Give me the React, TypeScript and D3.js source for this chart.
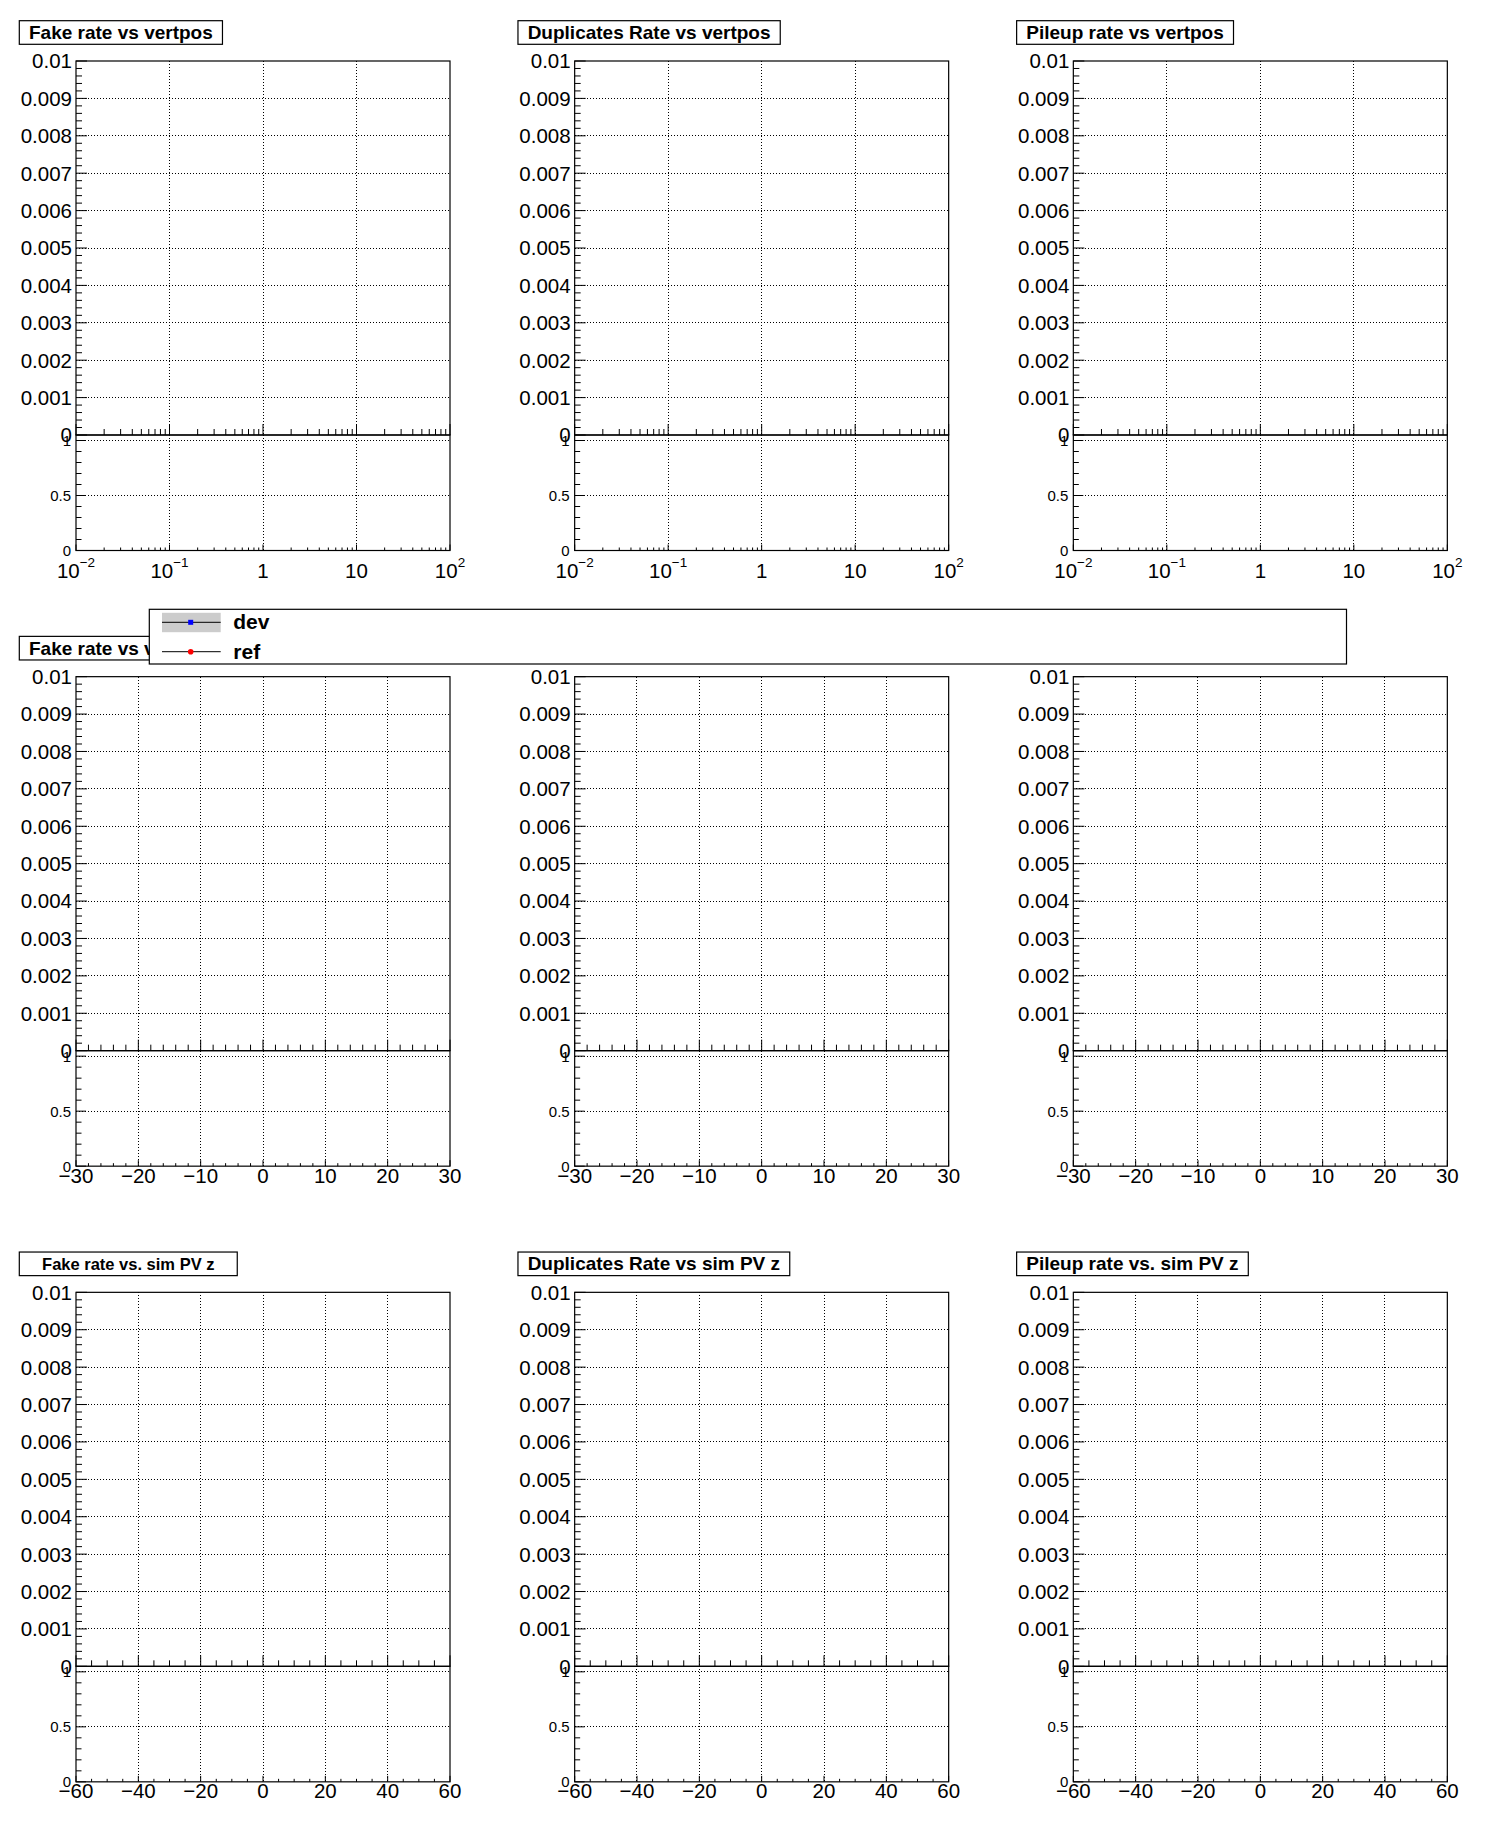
import { useMemo } from "react"
import * as d3 from "d3"

const WIDTH = 1496
const HEIGHT = 1847
const FONT = "'Liberation Sans', Arial, Helvetica, sans-serif"

// ── Chart content ─────────────────────────────────────────────────────────
const TITLES_VERTPOS = ["Fake rate vs vertpos", "Duplicates Rate vs vertpos", "Pileup rate vs vertpos"]
const TITLES_ZPOS = ["Fake rate vs vertpos z", "Duplicates Rate vs vertpos z", "Pileup rate vs vertpos z"]
const TITLES_SIMPVZ = ["Fake rate vs. sim PV z", "Duplicates Rate vs sim PV z", "Pileup rate vs. sim PV z"]

const X_VERTPOS_DOMAIN = [0.01, 100]
const X_VERTPOS_TICKS = [0.01, 0.1, 1, 10, 100]
const X_VERTPOS_LABELS = [["10", "−2"], ["10", "−1"], ["1", ""], ["10", ""], ["10", "2"]]

const X_ZPOS_DOMAIN = [-30, 30]
const X_ZPOS_TICKS = [-30, -20, -10, 0, 10, 20, 30]
const X_ZPOS_LABELS = ["−30", "−20", "−10", "0", "10", "20", "30"]

const X_SIMPVZ_DOMAIN = [-60, 60]
const X_SIMPVZ_TICKS = [-60, -40, -20, 0, 20, 40, 60]
const X_SIMPVZ_LABELS = ["−60", "−40", "−20", "0", "20", "40", "60"]

const RATE_DOMAIN = [0, 0.01]
const RATE_TICKS = [0, 0.001, 0.002, 0.003, 0.004, 0.005, 0.006, 0.007, 0.008, 0.009, 0.01]
const RATE_LABELS = ["0", "0.001", "0.002", "0.003", "0.004", "0.005", "0.006", "0.007", "0.008", "0.009", "0.01"]

const RATIO_DOMAIN = [0, 1.05]
const RATIO_TICKS = [0, 0.5, 1]
const RATIO_LABELS = ["0", "0.5", "1"]

// both series are empty in every panel
const DEV_POINTS: { x: number; y: number }[] = []
const REF_POINTS: { x: number; y: number }[] = []
const LEGEND_NAMES = ["dev", "ref"]
const LEGEND_COLORS = ["#0000ff", "#ff0000"]

// ── Layout (pad-relative) ────────────────────────────────────────────────
const PAD_W = WIDTH / 3
const PAD_H = HEIGHT / 3
const F = { left: 76, right: 450, top: 61, mid: 435, bottom: 550.5 }

const ROWS = [
  { titles: TITLES_VERTPOS, log: true, domain: X_VERTPOS_DOMAIN, ticks: X_VERTPOS_TICKS, labels: X_VERTPOS_LABELS, minor: 0 },
  { titles: TITLES_ZPOS, log: false, domain: X_ZPOS_DOMAIN, ticks: X_ZPOS_TICKS, labels: X_ZPOS_LABELS, minor: 30 },
  { titles: TITLES_SIMPVZ, log: false, domain: X_SIMPVZ_DOMAIN, ticks: X_SIMPVZ_TICKS, labels: X_SIMPVZ_LABELS, minor: 24 },
]

let measureCtx: CanvasRenderingContext2D | null = null
function textWidth(text: string, size: number) {
  if (!measureCtx) measureCtx = document.createElement("canvas").getContext("2d")
  if (!measureCtx) return text.length * size * 0.55
  measureCtx.font = `bold ${size}px ${FONT}`
  return measureCtx.measureText(text).width
}

const GRID = { stroke: "#000", strokeWidth: 1, strokeDasharray: "1,2", shapeRendering: "crispEdges" }
const LABEL_SIZE = 20.5

function Panel({ row, col }: { row: number; col: number }) {
  const cfg = ROWS[row]
  const title = cfg.titles[col]
  const x0 = col * PAD_W
  const y0 = row * PAD_H

  const x = useMemo(() => {
    return cfg.log
      ? d3.scaleLog().domain(cfg.domain).range([F.left, F.right])
      : d3.scaleLinear().domain(cfg.domain).range([F.left, F.right])
  }, [cfg])
  const yUp = d3.scaleLinear().domain(RATE_DOMAIN).range([F.mid, F.top])
  const yLo = d3.scaleLinear().domain(RATIO_DOMAIN).range([F.bottom, F.mid])

  const allX: number[] = cfg.log
    ? (x as d3.ScaleLogarithmic<number, number>).ticks()
    : (x as d3.ScaleLinear<number, number>).ticks(cfg.minor)
  const isMajor = (t: number) => cfg.ticks.some((m) => Math.abs(m - t) < 1e-9 * Math.max(1, Math.abs(m)))
  const minorX = allX.filter((t) => !isMajor(t))
  const minorUp = yUp.ticks(50).filter((t) => !RATE_TICKS.some((m) => Math.abs(m - t) < 1e-9))
  const minorLo = yLo.ticks(10).filter((t) => !RATIO_TICKS.some((m) => Math.abs(m - t) < 1e-9))

  const titleSize = title === "Fake rate vs. sim PV z" ? 16.5 : 19
  const boxW = textWidth(title, 19) + 19.4

  return (
    <g transform={`translate(${x0},${y0})`}>
      {/* title box */}
      <rect x={19.3} y={20.7} width={boxW} height={23.6} fill="#fff" stroke="#000" strokeWidth={1.2} />
      <text x={19.3 + boxW / 2} y={32.5} textAnchor="middle" dominantBaseline="central"
        fontFamily={FONT} fontWeight="bold" fontSize={titleSize}>{title}</text>

      {/* grids */}
      {RATE_TICKS.filter((t) => t > 0 && t < 0.01).map((t) => (
        <line key={`gu${t}`} x1={F.left} x2={F.right} y1={yUp(t)} y2={yUp(t)} {...GRID} />
      ))}
      {RATIO_TICKS.filter((t) => t > 0).map((t) => (
        <line key={`gl${t}`} x1={F.left} x2={F.right} y1={yLo(t)} y2={yLo(t)} {...GRID} />
      ))}
      {cfg.ticks.slice(1, -1).map((t) => (
        <g key={`gx${t}`}>
          <line x1={x(t)} x2={x(t)} y1={F.top} y2={F.mid} {...GRID} />
          <line x1={x(t)} x2={x(t)} y1={F.mid} y2={F.bottom} {...GRID} />
        </g>
      ))}

      {/* data (empty) */}
      {DEV_POINTS.map((p, i) => <rect key={`d${i}`} x={x(p.x) - 3} y={yUp(p.y) - 3} width={6} height={6} fill={LEGEND_COLORS[0]} />)}
      {REF_POINTS.map((p, i) => <circle key={`r${i}`} cx={x(p.x)} cy={yUp(p.y)} r={3} fill={LEGEND_COLORS[1]} />)}

      {/* upper y ticks */}
      {RATE_TICKS.map((t) => <line key={`tu${t}`} x1={F.left} x2={F.left + 11} y1={yUp(t)} y2={yUp(t)} stroke="#000" />)}
      {minorUp.map((t) => <line key={`mu${t}`} x1={F.left} x2={F.left + 6} y1={yUp(t)} y2={yUp(t)} stroke="#000" />)}
      {/* lower y ticks */}
      {RATIO_TICKS.map((t) => <line key={`tl${t}`} x1={F.left} x2={F.left + 10} y1={yLo(t)} y2={yLo(t)} stroke="#000" />)}
      {minorLo.map((t) => <line key={`ml${t}`} x1={F.left} x2={F.left + 5.5} y1={yLo(t)} y2={yLo(t)} stroke="#000" />)}
      {/* x ticks, upper and lower pads */}
      {cfg.ticks.map((t) => (
        <g key={`tx${t}`}>
          <line x1={x(t)} x2={x(t)} y1={F.mid} y2={F.mid - 11} stroke="#000" />
          <line x1={x(t)} x2={x(t)} y1={F.bottom} y2={F.bottom - 6} stroke="#000" />
        </g>
      ))}
      {minorX.map((t) => (
        <g key={`mx${t}`}>
          <line x1={x(t)} x2={x(t)} y1={F.mid} y2={F.mid - 6} stroke="#000" />
          <line x1={x(t)} x2={x(t)} y1={F.bottom} y2={F.bottom - 3} stroke="#000" />
        </g>
      ))}

      {/* frames */}
      <rect x={F.left} y={F.top} width={F.right - F.left} height={F.mid - F.top} fill="none" stroke="#000" strokeWidth={1.2} />
      <rect x={F.left} y={F.mid} width={F.right - F.left} height={F.bottom - F.mid} fill="none" stroke="#000" strokeWidth={1.2} />

      {/* y labels */}
      {RATIO_TICKS.map((t, i) => (
        <text key={`ll${t}`} x={F.left - 5} y={yLo(t)} dy="0.36em" textAnchor="end" fontFamily={FONT} fontSize={15}>{RATIO_LABELS[i]}</text>
      ))}
      {RATE_TICKS.map((t, i) => (
        <text key={`lu${t}`} x={F.left - 4} y={yUp(t)} dy="0.36em" textAnchor="end" fontFamily={FONT} fontSize={LABEL_SIZE}>{RATE_LABELS[i]}</text>
      ))}

      {/* x labels */}
      {cfg.ticks.map((t, i) => {
        const lab = cfg.labels[i]
        if (Array.isArray(lab)) {
          return (
            <text key={`lx${t}`} x={x(t)} y={578} textAnchor="middle" fontFamily={FONT} fontSize={LABEL_SIZE}>
              <tspan>{lab[0]}</tspan>
              {lab[1] && <tspan dy={-11} fontSize={13.5}>{lab[1]}</tspan>}
            </text>
          )
        }
        return (
          <text key={`lx${t}`} x={x(t)} y={567} textAnchor="middle" fontFamily={FONT} fontSize={LABEL_SIZE}>{lab}</text>
        )
      })}
    </g>
  )
}

function Legend() {
  const left = 149.3, top = 609.3, right = 1346.5, bottom = 664
  const rowsY = [622.3, 651.7]
  return (
    <g>
      <rect x={left} y={top} width={right - left} height={bottom - top} fill="#fff" stroke="#000" strokeWidth={1.2} />
      {LEGEND_NAMES.map((name, i) => {
        const cy = rowsY[i]
        return (
          <g key={name}>
            {i === 0 && <rect x={162} y={cy - 9.5} width={58.7} height={19.4} fill="#cccccc" />}
            <line x1={162} x2={220.7} y1={cy} y2={cy} stroke="#000" strokeWidth={1} />
            {i === 0
              ? <rect x={188.2} y={cy - 2.5} width={5} height={5} fill={LEGEND_COLORS[0]} />
              : <circle cx={190.7} cy={cy} r={2.8} fill={LEGEND_COLORS[1]} />}
            <text x={233.3} y={cy + 7} fontFamily={FONT} fontWeight="bold" fontSize={21}>{name}</text>
          </g>
        )
      })}
    </g>
  )
}

export default function App() {
  return (
    <svg width={WIDTH} height={HEIGHT} style={{ position: "absolute", left: 0, top: 0, background: "#fff" }}>
      <rect width={WIDTH} height={HEIGHT} fill="#fff" />
      {[0, 1, 2].map((row) => [0, 1, 2].map((col) => <Panel key={`${row}-${col}`} row={row} col={col} />))}
      <Legend />
    </svg>
  )
}
